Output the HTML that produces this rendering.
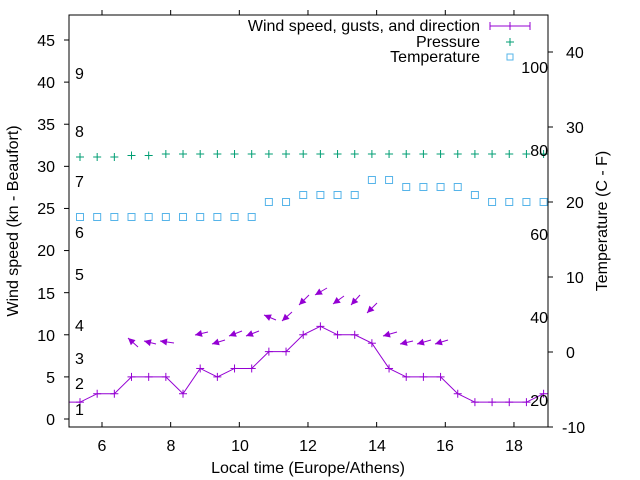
<!DOCTYPE html>
<html><head><meta charset="utf-8"><style>
body{margin:0;background:#fff}
svg{display:block;font-family:"Liberation Sans",sans-serif;font-size:16px}
</style></head><body>
<svg id="s" width="640" height="480" xmlns="http://www.w3.org/2000/svg">
<rect x="0" y="0" width="640" height="480" fill="#fff"/>
<g id="g"></g>
<rect x="69" y="15" width="479" height="412" fill="none" stroke="#000" stroke-width="1"/>
<g fill="#000" text-anchor="end">
<text x="55" y="425">0</text><text x="55" y="383">5</text><text x="55" y="341">10</text><text x="55" y="299">15</text><text x="55" y="256">20</text><text x="55" y="214">25</text><text x="55" y="172">30</text><text x="55" y="130">35</text><text x="55" y="88">40</text><text x="55" y="46">45</text>
</g>
<g fill="#000" text-anchor="start">
<text x="562" y="433">-10</text><text x="566" y="358">0</text><text x="566" y="283">10</text><text x="566" y="208">20</text><text x="566" y="133">30</text><text x="566" y="58">40</text>
</g>
<g fill="#000" text-anchor="middle">
<text x="102" y="451">6</text><text x="171" y="451">8</text><text x="240" y="451">10</text><text x="308" y="451">12</text><text x="377" y="451">14</text><text x="445" y="451">16</text><text x="514" y="451">18</text>
<text x="308" y="473">Local time (Europe/Athens)</text>
<text transform="translate(18,221) rotate(-90)">Wind speed (kn - Beaufort)</text>
<text transform="translate(607,221) rotate(-90)">Temperature (C - F)</text>
</g>
<g fill="#000">
<text x="75" y="415">1</text><text x="75" y="389">2</text><text x="75" y="364">3</text><text x="75" y="331">4</text><text x="75" y="280">5</text><text x="75" y="238">6</text><text x="75" y="187">7</text><text x="75" y="137">8</text><text x="75" y="79">9</text>
</g>
<g fill="#000" text-anchor="end">
<text x="548" y="73">100</text><text x="548" y="156">80</text><text x="548" y="240">60</text><text x="548" y="323">40</text><text x="548" y="406">20</text>
</g>
<g text-anchor="end" fill="#000">
<text x="480" y="31">Wind speed, gusts, and direction</text>
<text x="480" y="47">Pressure</text>
<text x="480" y="62">Temperature</text>
</g>
<g stroke="#9400d3"><line x1="490" y1="26" x2="530" y2="26"/><line x1="490" y1="22" x2="490" y2="30"/><line x1="530" y1="22" x2="530" y2="30"/><line x1="510" y1="22" x2="510" y2="30"/></g>
<g stroke="#009e73"><line x1="506" y1="42" x2="514" y2="42"/><line x1="510" y1="38" x2="510" y2="46"/></g>
<rect x="507" y="54" width="6" height="6" fill="none" stroke="#56b4e9"/>
</svg>
<script>
var g=document.getElementById('g'),h='';
function X(k){return 80+17.17*k;}
function L(x1,y1,x2,y2,c){h+='<line x1="'+x1+'" y1="'+y1+'" x2="'+x2+'" y2="'+y2+'" stroke="'+c+'" stroke-width="1"/>';}
[0,5,10,15,20,25,30,35,40,45].forEach(function(v){var y=419-8.422*v;L(64,y,69,y,'#000');});
[6,8,10,12,14,16,18].forEach(function(t){var x=102+34.33*(t-6);L(x,422,x,427,'#000');L(x,10,x,15,'#000');});
[-10,0,10,20,30,40].forEach(function(v){var y=352-7.5*v;L(548,y,553,y,'#000');});
var w=[2,3,3,5,5,5,3,6,5,6,6,8,8,10,11,10,10,9,6,5,5,5,3,2,2,2,2,3];
var pts='69,'+(419-8.422*2);
w.forEach(function(v,k){pts+=' '+X(k)+','+(419-8.422*v);});
h+='<polyline points="'+pts+'" fill="none" stroke="#9400d3"/>';
w.forEach(function(v,k){var x=X(k),y=419-8.422*v;L(x-4,y,x+4,y,'#9400d3');L(x,y-4,x,y+4,'#9400d3');});
var p=[157,157,157,155.5,155.5,154];
for(var k=0;k<28;k++){var y=k<6?p[k]:154,x=X(k);L(x-4,y,x+4,y,'#009e73');L(x,y-4,x,y+4,'#009e73');}
var t=[217,217,217,217,217,217,217,217,217,217,217,202,202,195,195,195,195,180,180,187,187,187,187,195,202,202,202,202];
t.forEach(function(y,k){var x=X(k);h+='<rect x="'+(x-3.5)+'" y="'+(y-3.5)+'" width="7" height="7" fill="none" stroke="#56b4e9"/>';});
var a=[[128,338,138,347],[144,341,156,344],[160,341,174,343],[195,335,208,332],[212,344,225,340],[229,336,242,331],[246,336,259,331],[264,315,276,320],[282,321,292,312],[299,305,309,295],[315,295,327,288],[333,304,344,296],[351,305,360,295],[367,313,377,303],[383,336,397,332],[400,344,413,341],[417,344,431,340],[435,344,448,340]];
a.forEach(function(r){var hx=r[0],hy=r[1],tx=r[2],ty=r[3];L(tx,ty,hx,hy,'#9400d3');var dx=tx-hx,dy=ty-hy,l=Math.sqrt(dx*dx+dy*dy);dx/=l;dy/=l;var bx=hx+dx*7,by=hy+dy*7,px=-dy*3.5,py=dx*3.5;h+='<polygon points="'+hx+','+hy+' '+(bx+px)+','+(by+py)+' '+(bx-px)+','+(by-py)+'" fill="#9400d3"/>';});
g.innerHTML=h;
</script>
</body></html>
